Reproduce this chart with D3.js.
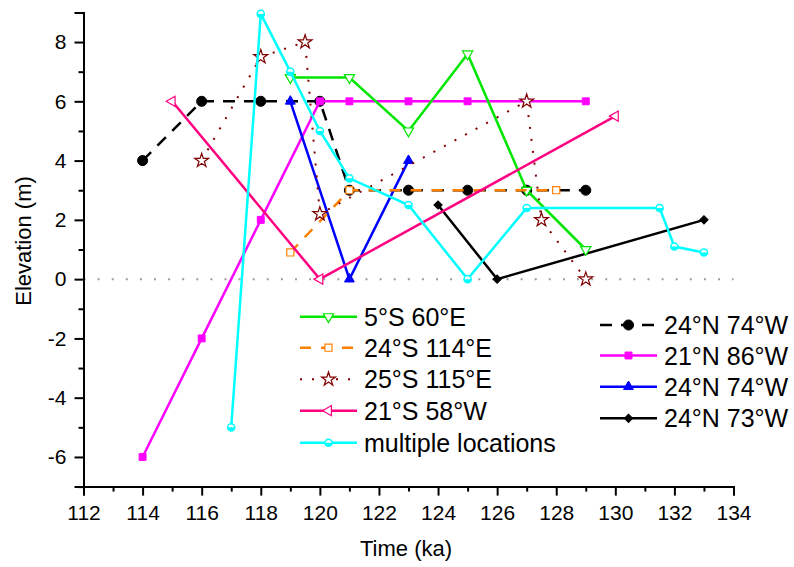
<!DOCTYPE html>
<html>
<head>
<meta charset="utf-8">
<script src="https://cdn.jsdelivr.net/npm/d3@7"></script>
<style>
  body { margin: 0; background: #fff; }
  svg { font-family: "Liberation Sans", Arial, sans-serif; }
</style>
</head>
<body>
<div class="chart"></div>
<script>
var svgWidth = 794;
var svgHeight = 567;

// series data (time ka, elevation m)
var s5S60E = [[119, 6.8], [121, 6.8], [123, 5], [125, 7.6], [127, 3], [129, 1]];
var s24S114E = [[119, 0.9], [121, 3], [128, 3]];
var s25S115E = [[116, 4], [118, 7.5], [119.5, 8], [120, 2.2], [127, 6], [127.5, 2], [129, 0]];
var s21S58W = [[115, 6], [120, 0], [130, 5.5]];
var sMultiple = [[117, -5], [118, 8.95], [119, 7], [120, 5], [121, 3.4], [123, 2.5], [125, 0], [127, 2.4], [131.5, 2.4], [132, 1.1], [133, 0.9]];
var s24N74Wa = [[114, 4], [116, 6], [118, 6], [120, 6], [121, 3], [123, 3], [125, 3], [127, 3], [129, 3]];
var s21N86W = [[114, -6], [116, -2], [118, 2], [120, 6], [121, 6], [123, 6], [125, 6], [129, 6]];
var s24N74Wb = [[119, 6], [121, 0], [123, 4]];
var s24N73W = [[124, 2.5], [126, 0], [133, 2]];

var xTicks = d3.range(112, 135, 2);
var yTicks = d3.range(-6, 9, 2);

var svg = d3.select(".chart")
  .append("svg")
  .attr("width", svgWidth)
  .attr("height", svgHeight);

var x = d3.scaleLinear().domain([112, 134]).range([83.5, 733.5]);
var y = d3.scaleLinear().domain([-7, 9]).range([486.6, 12.4]);

// zero reference line
svg.append("line")
  .attr("x1", x(112)).attr("x2", x(134))
  .attr("y1", y(0)).attr("y2", y(0))
  .attr("stroke", "#999")
  .attr("stroke-width", 2)
  .attr("stroke-dasharray", "2,12.1");

// series styles, drawn in this order
var series = [
  {name: "24°N 74°W", data: s24N74Wa, color: "#000", dash: "12,9", sym: d3.symbolCircle, size: 80, rot: 0, fill: "#000"},
  {name: "21°N 86°W", data: s21N86W, color: "#ff00ff", dash: null, sym: d3.symbolSquare, size: 48, rot: 0, fill: "#ff00ff"},
  {name: "24°N 74°W", data: s24N74Wb, color: "#0000ff", dash: null, sym: d3.symbolTriangle, size: 42, rot: 0, fill: "#0000ff"},
  {name: "24°N 73°W", data: s24N73W, color: "#000", dash: null, sym: d3.symbolSquare, size: 34, rot: 45, fill: "#000"},
  {name: "5°S 60°E", data: s5S60E, color: "#00e600", dash: null, sym: d3.symbolTriangle, size: 45, rot: 180, fill: "#fff"},
  {name: "24°S 114°E", data: s24S114E, color: "#ff8000", dash: "11,10", sym: d3.symbolSquare, size: 50, rot: 0, fill: "#fff"},
  {name: "25°S 115°E", data: s25S115E, color: "#800000", dash: "2,10", sym: d3.symbolStar, size: 60, rot: 0, fill: "#fff", lw: 2},
  {name: "21°S 58°W", data: s21S58W, color: "#ff0080", dash: null, sym: d3.symbolTriangle, size: 45, rot: -90, fill: "#fff"},
  {name: "multiple locations", data: sMultiple, color: "#00ffff", dash: null, sym: d3.symbolCircle, size: 40, rot: 0, fill: "half"}
];

var line = d3.line().x(d => x(d[0])).y(d => y(d[1]));

function drawMarker(g, s, px, py) {
  if (s.fill === "half") {
    var r = Math.sqrt(s.size / Math.PI);
    g.append("circle").attr("cx", px).attr("cy", py).attr("r", r)
      .attr("fill", "#fff").attr("stroke", s.color).attr("stroke-width", 1.5);
    g.append("path")
      .attr("d", `M${px - r},${py} A${r},${r} 0 0 0 ${px + r},${py} Z`)
      .attr("fill", s.color);
    return;
  }
  g.append("path")
    .attr("d", d3.symbol().type(s.sym).size(s.size)())
    .attr("transform", `translate(${px},${py}) rotate(${s.rot})`)
    .attr("fill", s.fill)
    .attr("stroke", s.color)
    .attr("stroke-width", s.fill === "#fff" ? 1.2 : 1);
}

series.forEach(function(s) {
  var g = svg.append("g");
  g.append("path")
    .attr("d", line(s.data))
    .attr("fill", "none")
    .attr("stroke", s.color)
    .attr("stroke-width", s.lw || 2.5)
    .attr("stroke-dasharray", s.dash);
  s.data.forEach(d => drawMarker(g, s, x(d[0]), y(d[1])));
});

// plain hyphen for negatives, like the original
var fmt = d => String(d);

// axes
svg.append("g")
  .attr("transform", `translate(0, ${y(-7)})`)
  .call(d3.axisBottom(x).tickValues(xTicks).tickSize(9).tickPadding(9).tickFormat(fmt));
svg.append("g")
  .attr("transform", `translate(0, ${y(-7)})`)
  .call(d3.axisBottom(x).tickValues(d3.range(113, 134, 2)).tickSize(5).tickFormat(""));

svg.append("g")
  .attr("transform", `translate(${x(112)}, 0)`)
  .call(d3.axisLeft(y).tickValues(yTicks).tickSize(9).tickPadding(8).tickFormat(fmt));
svg.append("g")
  .attr("transform", `translate(${x(112)}, 0)`)
  .call(d3.axisLeft(y).tickValues(d3.range(-7, 9, 2)).tickSize(5).tickFormat(""));

svg.selectAll(".domain").attr("stroke", "#000").attr("stroke-width", 2);
svg.selectAll(".tick line").attr("stroke", "#000").attr("stroke-width", 2);
svg.selectAll(".tick text")
  .attr("font-size", 21)
  .attr("font-family", "'Liberation Sans', Arial, sans-serif")
  .attr("fill", "#000");

// axis titles
svg.append("text")
  .attr("x", 406)
  .attr("y", 556)
  .attr("text-anchor", "middle")
  .attr("font-size", 22)
  .text("Time (ka)");

svg.append("text")
  .attr("transform", "translate(31, 241) rotate(-90)")
  .attr("text-anchor", "middle")
  .attr("font-size", 22)
  .text("Elevation (m)");

// legend
var legendLeft = series.slice(4);
var legendRight = series.slice(0, 4);
var leftRows = [316.7, 347.7, 379.3, 410.7, 442.7];
var rightRows = [325, 355.5, 386.7, 418.3];

function drawLegend(items, rows, x0) {
  items.forEach(function(s, i) {
    var g = svg.append("g");
    var cy = rows[i];
    g.append("line")
      .attr("x1", x0).attr("x2", x0 + 57)
      .attr("y1", cy).attr("y2", cy)
      .attr("stroke", s.color)
      .attr("stroke-width", s.lw || 2.5)
      .attr("stroke-dasharray", s.dash);
    drawMarker(g, s, x0 + 28.5, cy);
    g.append("text")
      .attr("x", x0 + 64)
      .attr("y", cy + 9)
      .attr("font-size", 25)
      .attr("fill", "#000")
      .text(s.name);
  });
}

drawLegend(legendLeft, leftRows, 300);
drawLegend(legendRight, rightRows, 600);
</script>
</body>
</html>
